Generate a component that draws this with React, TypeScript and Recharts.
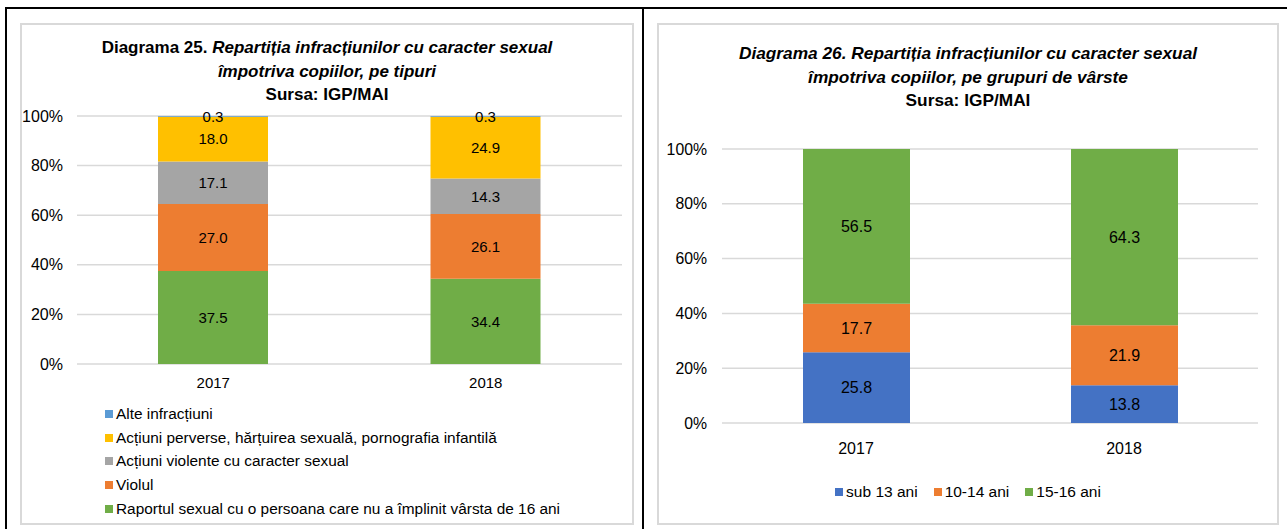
import React from "react";
import { BarChart, Bar, XAxis, YAxis, CartesianGrid, LabelList } from "recharts";

// categories
const years = ["2017", "2018"];

// Diagrama 25 - shares by type (%)
const alte = [0.3, 0.3];
const perverse = [18.0, 24.9];
const violente = [17.1, 14.3];
const violul = [27.0, 26.1];
const raportul = [37.5, 34.4];

// Diagrama 26 - shares by age group (%)
const sub13 = [25.8, 13.8];
const ani1014 = [17.7, 21.9];
const ani1516 = [56.5, 64.3];

const yTicks = [0, 0.2, 0.4, 0.6, 0.8, 1];

const FONT = '"Liberation Sans", Arial, sans-serif';

const typeSeries = [
  { key: "raportul", name: "Raportul sexual cu o persoana care nu a împlinit vârsta de 16 ani", color: "#70AD47", values: raportul },
  { key: "violul", name: "Violul", color: "#ED7D31", values: violul },
  { key: "violente", name: "Acțiuni violente cu caracter sexual", color: "#A5A5A5", values: violente },
  { key: "perverse", name: "Acțiuni perverse, hărțuirea sexuală, pornografia infantilă", color: "#FFC000", values: perverse },
  { key: "alte", name: "Alte infracțiuni", color: "#5B9BD5", values: alte },
];

const ageSeries = [
  { key: "sub13", name: "sub 13 ani", color: "#4472C4", values: sub13 },
  { key: "a1014", name: "10-14 ani", color: "#ED7D31", values: ani1014 },
  { key: "a1516", name: "15-16 ani", color: "#70AD47", values: ani1516 },
];

const typeData = years.map((y, i) => {
  const row: Record<string, any> = { year: y };
  typeSeries.forEach(s => (row[s.key] = s.values[i]));
  return row;
});

const ageData = years.map((y, i) => {
  const row: Record<string, any> = { year: y };
  ageSeries.forEach(s => (row[s.key] = s.values[i]));
  return row;
});

const pct = (v: number) => `${Math.round(v * 100)}%`;
const one = (v: any) => Number(v).toFixed(1);

const box: React.CSSProperties = {
  position: "absolute",
  top: 23,
  border: "2px solid #d9d9d9",
  boxSizing: "border-box",
  background: "#fff",
};

export default function App() {
  return (
    <div style={{ position: "absolute", left: 0, top: 0, width: 1287, height: 529, background: "#fff", fontFamily: FONT, color: "#000", overflow: "hidden" }}>
      {/* table lines */}
      <div style={{ position: "absolute", left: 5, top: 7, width: 1282, height: 2, background: "#000" }} />
      <div style={{ position: "absolute", left: 5, top: 7, width: 2, height: 522, background: "#000" }} />
      <div style={{ position: "absolute", left: 642, top: 7, width: 2, height: 522, background: "#000" }} />

      {/* left chart */}
      <div style={{ ...box, left: 20, width: 614, height: 502 }} />
      <div style={{ position: "absolute", left: 20, top: 36, width: 614, textAlign: "center", fontSize: 17, fontWeight: "bold", lineHeight: "23.5px" }}>
        <div>
          Diagrama 25. <i>Repartiția infracțiunilor cu caracter sexual</i>
        </div>
        <div><i>împotriva copiilor, pe tipuri</i></div>
        <div>Sursa: IGP/MAI</div>
      </div>
      <div style={{ position: "absolute", left: 20, top: 23 }}>
        <BarChart width={614} height={502} data={typeData} stackOffset="expand" margin={{ top: 93, right: 12, bottom: 131, left: 0 }}>
          <CartesianGrid vertical={false} stroke="#d9d9d9" strokeWidth={1.5} />
          <XAxis dataKey="year" axisLine={false} tickLine={false} tickMargin={7} height={30} tick={{ fill: "#000", fontSize: 15, fontFamily: FONT }} />
          <YAxis domain={[0, 1]} ticks={yTicks} tickFormatter={pct} axisLine={false} tickLine={false} width={57} tickMargin={8} tick={{ fill: "#000", fontSize: 16, fontFamily: FONT }} />
          {typeSeries.map(s => (
            <Bar key={s.key} dataKey={s.key} stackId="a" fill={s.color} barSize={110} isAnimationActive={false}>
              <LabelList dataKey={s.key} position="center" formatter={one} fill="#000" fontSize={15} fontFamily={FONT} />
            </Bar>
          ))}
        </BarChart>
      </div>
      <div style={{ position: "absolute", left: 105, top: 402, fontSize: 15.4, lineHeight: "23.7px" }}>
        {[...typeSeries].reverse().map(s => (
          <div key={s.key} style={{ display: "flex", alignItems: "center" }}>
            <span style={{ display: "inline-block", width: 8, height: 8, background: s.color, marginRight: 3 }} />
            <span>{s.name}</span>
          </div>
        ))}
      </div>

      {/* right chart */}
      <div style={{ ...box, left: 657, width: 622, height: 502 }} />
      <div style={{ position: "absolute", left: 657, top: 42, width: 622, textAlign: "center", fontSize: 17.3, fontWeight: "bold", lineHeight: "23.5px" }}>
        <div><i>Diagrama 26. Repartiția infracțiunilor cu caracter sexual</i></div>
        <div><i>împotriva copiilor, pe grupuri de vârste</i></div>
        <div>Sursa: IGP/MAI</div>
      </div>
      <div style={{ position: "absolute", left: 657, top: 23 }}>
        <BarChart width={622} height={502} data={ageData} stackOffset="expand" margin={{ top: 126, right: 21, bottom: 62, left: 0 }}>
          <CartesianGrid vertical={false} stroke="#d9d9d9" strokeWidth={1.5} />
          <XAxis dataKey="year" axisLine={false} tickLine={false} tickMargin={14} height={40} tick={{ fill: "#000", fontSize: 16, fontFamily: FONT }} />
          <YAxis domain={[0, 1]} ticks={yTicks} tickFormatter={pct} axisLine={false} tickLine={false} width={65} tickMargin={9} tick={{ fill: "#000", fontSize: 15.8, fontFamily: FONT }} />
          {ageSeries.map(s => (
            <Bar key={s.key} dataKey={s.key} stackId="a" fill={s.color} barSize={107} isAnimationActive={false}>
              <LabelList dataKey={s.key} position="center" formatter={one} fill="#000" fontSize={16} fontFamily={FONT} />
            </Bar>
          ))}
        </BarChart>
      </div>
      <div style={{ position: "absolute", left: 657, top: 482, width: 622, display: "flex", justifyContent: "center", fontSize: 15.5, lineHeight: "20px" }}>
        {ageSeries.map(s => (
          <div key={s.key} style={{ display: "flex", alignItems: "center", margin: "0 8px" }}>
            <span style={{ display: "inline-block", width: 8, height: 8, background: s.color, marginRight: 3 }} />
            <span>{s.name}</span>
          </div>
        ))}
      </div>
    </div>
  );
}
